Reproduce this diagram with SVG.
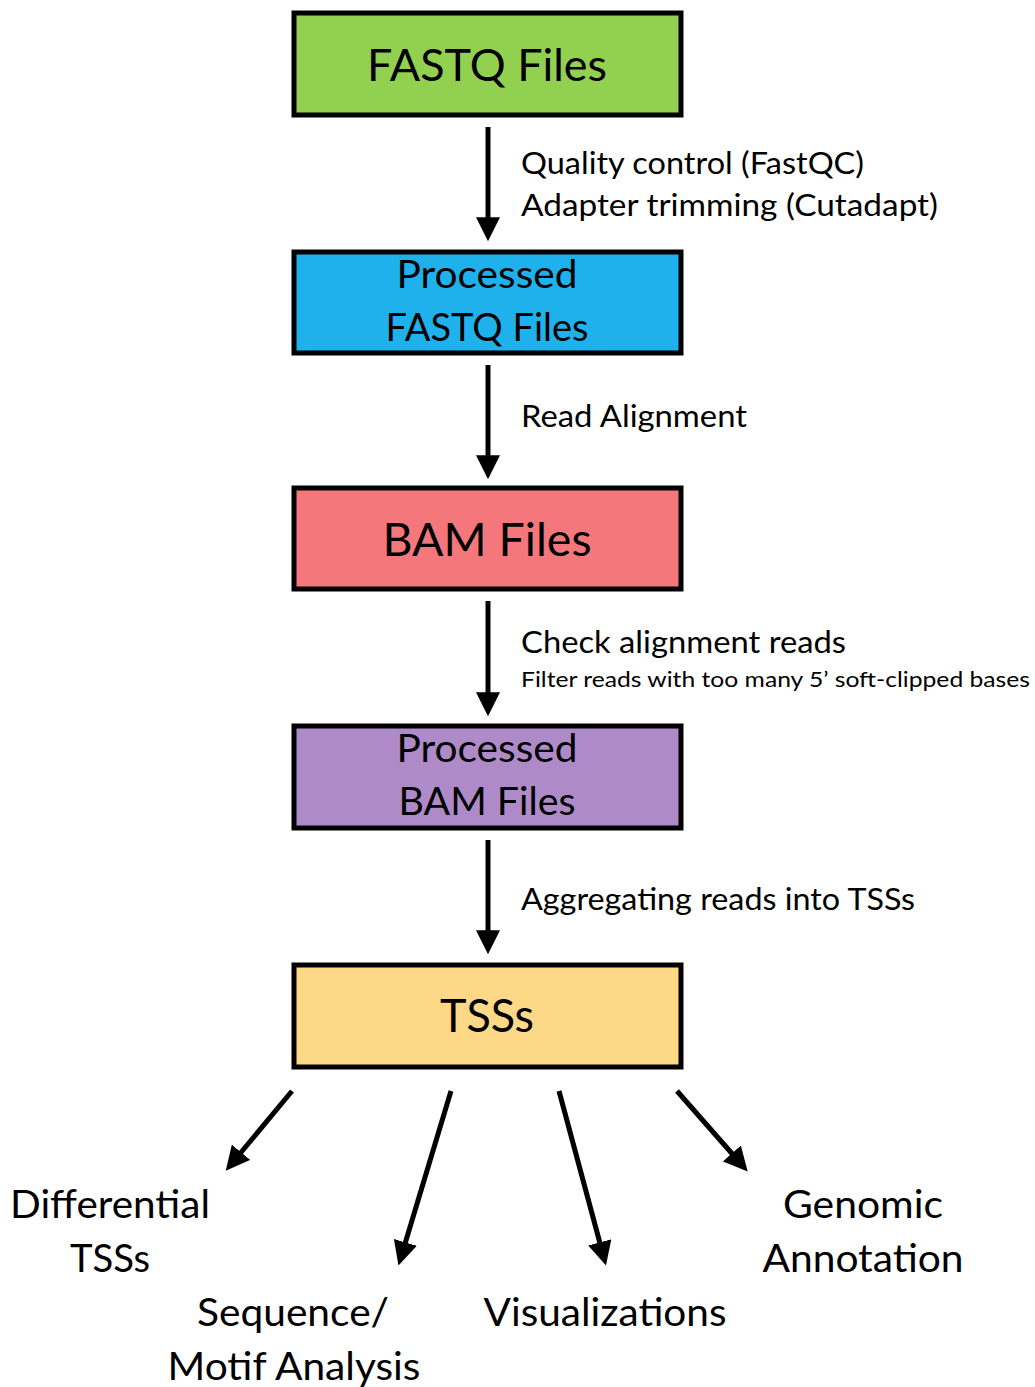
<svg xmlns="http://www.w3.org/2000/svg" width="1035" height="1387" viewBox="0 0 1035 1387">
<style>
.box{stroke:#000;stroke-width:5}
text{font-family:Lato,"Open Sans","Noto Sans",sans-serif;fill:#000}
.bt{text-anchor:middle}
.arr{stroke:#000;stroke-width:5;fill:none;marker-end:url(#ah)}
</style>
<defs>
<marker id="ah" markerUnits="userSpaceOnUse" markerWidth="24" markerHeight="24" viewBox="0 0 20 20" refX="4" refY="10" orient="auto">
<path d="M0,0 L20,10 L0,20 Z" fill="#000"/>
</marker>
</defs>
<rect width="1035" height="1387" fill="#fff"/>
<g id="connectors">
<line class="arr" x1="488" y1="127" x2="488" y2="222"/>
<line class="arr" x1="488" y1="365" x2="488" y2="460"/>
<line class="arr" x1="488" y1="601" x2="488" y2="697"/>
<line class="arr" x1="488" y1="840" x2="488" y2="935"/>
<line class="arr" x1="292" y1="1091" x2="238" y2="1156"/>
<line class="arr" x1="451" y1="1091" x2="404" y2="1247"/>
<line class="arr" x1="559" y1="1091" x2="601" y2="1247"/>
<line class="arr" x1="677" y1="1091" x2="735" y2="1157"/>
<text x="521" y="174" font-size="30" textLength="343" lengthAdjust="spacingAndGlyphs">Quality control (FastQC)</text>
<text x="521" y="216" font-size="30" textLength="417" lengthAdjust="spacingAndGlyphs">Adapter trimming (Cutadapt)</text>
<text x="521" y="427" font-size="30" textLength="226" lengthAdjust="spacingAndGlyphs">Read Alignment</text>
<text x="521" y="653" font-size="30" textLength="325" lengthAdjust="spacingAndGlyphs">Check alignment reads</text>
<text x="521" y="687" font-size="21" textLength="509" lengthAdjust="spacingAndGlyphs">Filter reads with too many 5’ soft-clipped bases</text>
<text x="521" y="910" font-size="30" textLength="394" lengthAdjust="spacingAndGlyphs">Aggregating reads into TSSs</text>
</g>
<g id="fastq">
<rect class="box" x="294" y="13" width="387" height="102" fill="#92D050"/>
<text class="bt" x="487" y="81" font-size="44" textLength="240" lengthAdjust="spacingAndGlyphs">FASTQ Files</text>
</g>
<g id="processed-fastq">
<rect class="box" x="294" y="252" width="387" height="101" fill="#1EB1EC"/>
<text class="bt" x="487" y="288" font-size="38" textLength="181" lengthAdjust="spacingAndGlyphs">Processed</text>
<text class="bt" x="487" y="341" font-size="38" textLength="203" lengthAdjust="spacingAndGlyphs">FASTQ Files</text>
</g>
<g id="bam">
<rect class="box" x="294" y="488" width="387" height="101" fill="#F4777C"/>
<text class="bt" x="487" y="556" font-size="46" textLength="209" lengthAdjust="spacingAndGlyphs">BAM Files</text>
</g>
<g id="processed-bam">
<rect class="box" x="294" y="726" width="387" height="102" fill="#AE8BC8"/>
<text class="bt" x="487" y="762" font-size="38" textLength="181" lengthAdjust="spacingAndGlyphs">Processed</text>
<text class="bt" x="487" y="815" font-size="38" textLength="177" lengthAdjust="spacingAndGlyphs">BAM Files</text>
</g>
<g id="tsss">
<rect class="box" x="294" y="965" width="387" height="102" fill="#FDD886"/>
<text class="bt" x="487" y="1032" font-size="46" textLength="94" lengthAdjust="spacingAndGlyphs">TSSs</text>
</g>
<g id="differential">
<text class="bt" x="110" y="1218" font-size="38" textLength="200" lengthAdjust="spacingAndGlyphs">Differential</text>
<text class="bt" x="110" y="1272" font-size="38" textLength="80" lengthAdjust="spacingAndGlyphs">TSSs</text>
</g>
<g id="sequence">
<text class="bt" x="293" y="1326" font-size="38" textLength="192" lengthAdjust="spacingAndGlyphs">Sequence/</text>
<text class="bt" x="294" y="1380" font-size="38" textLength="253" lengthAdjust="spacingAndGlyphs">Motif Analysis</text>
</g>
<g id="visualizations">
<text class="bt" x="605" y="1326" font-size="38" textLength="243" lengthAdjust="spacingAndGlyphs">Visualizations</text>
</g>
<g id="genomic">
<text class="bt" x="863" y="1218" font-size="38" textLength="160" lengthAdjust="spacingAndGlyphs">Genomic</text>
<text class="bt" x="863" y="1272" font-size="38" textLength="201" lengthAdjust="spacingAndGlyphs">Annotation</text>
</g>
</svg>
